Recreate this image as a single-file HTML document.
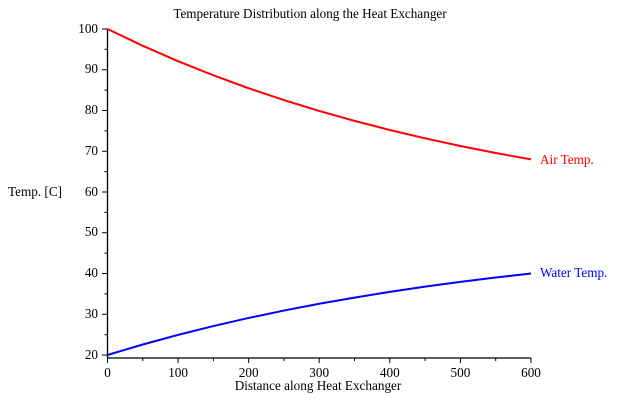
<!DOCTYPE html>
<html><head><meta charset="utf-8"><style>body{margin:0;background:#fff}svg{display:block}text{font-family:"Liberation Serif",serif;font-size:13.2px}</style></head><body>
<svg width="620" height="400" xmlns="http://www.w3.org/2000/svg">
<text x="310" y="18" text-anchor="middle">Temperature Distribution along the Heat Exchanger</text>
<g stroke="#000" stroke-width="1.3" fill="none">
<line x1="107.5" y1="29" x2="107.5" y2="358"/>
<line x1="107.5" y1="358" x2="531" y2="358"/>
</g>
<g stroke="#000" stroke-width="1">
<path d="M102 355H107.5M102 314.25H107.5M102 273.5H107.5M102 232.75H107.5M102 192H107.5M102 151.25H107.5M102 110.5H107.5M102 69.75H107.5M102 29H107.5"/>
<path d="M104.5 334.6H107.5M104.5 293.9H107.5M104.5 253.1H107.5M104.5 212.4H107.5M104.5 171.6H107.5M104.5 130.9H107.5M104.5 90.1H107.5M104.5 49.4H107.5"/>
<path d="M107.5 358V363M178.1 358V363M248.7 358V363M319.2 358V363M389.8 358V363M460.4 358V363M531 358V363"/>
<path d="M142.8 358V361M213.4 358V361M284 358V361M354.5 358V361M425.1 358V361M495.7 358V361"/>
</g>
<g text-anchor="end">
<text x="98" y="359">20</text><text x="98" y="318">30</text><text x="98" y="277">40</text><text x="98" y="236">50</text><text x="98" y="196">60</text><text x="98" y="155">70</text><text x="98" y="114">80</text><text x="98" y="73">90</text><text x="98" y="33">100</text>
</g>
<g text-anchor="middle">
<text x="107.5" y="377">0</text><text x="178.1" y="377">100</text><text x="248.7" y="377">200</text><text x="319.2" y="377">300</text><text x="389.8" y="377">400</text><text x="460.4" y="377">500</text><text x="531" y="377">600</text>
<text x="318" y="390">Distance along Heat Exchanger</text>
</g>
<text x="8" y="196">Temp. [C]</text>
<g transform="translate(107.5,355) scale(0.7058,-4.075)" fill="none" stroke-width="2" >
<polyline vector-effect="non-scaling-stroke" stroke="#f00" points="0,80 50,75.88 100,72.10 150,68.64 200,65.46 250,62.56 300,59.89 350,57.46 400,55.22 450,53.17 500,51.29 550,49.58 600,48"/>
<polyline vector-effect="non-scaling-stroke" stroke="#00f" points="0,0 50,2.58 100,4.94 150,7.10 200,9.09 250,10.90 300,12.57 350,14.09 400,15.49 450,16.77 500,17.94 550,19.02 600,20"/>
</g>
<text x="540" y="164" fill="#f00">Air Temp.</text>
<text x="540" y="277" fill="#00f">Water Temp.</text>
</svg>
</body></html>
